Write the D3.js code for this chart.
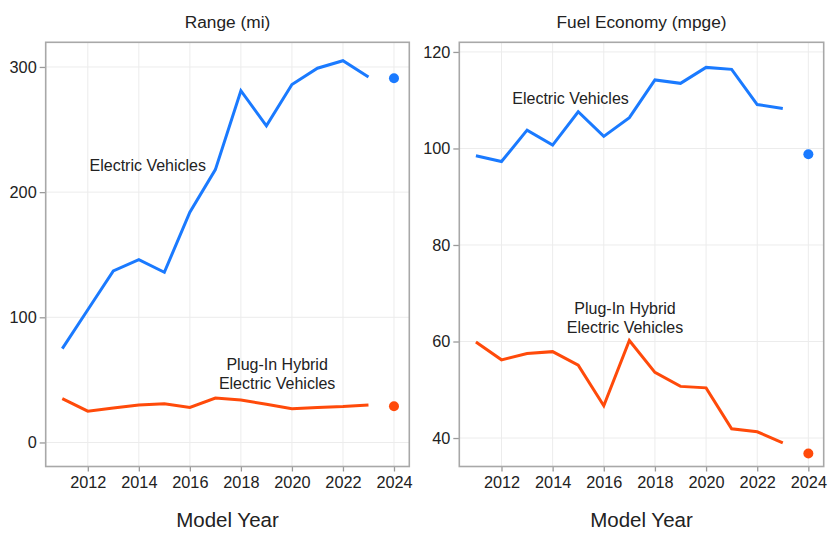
<!DOCTYPE html>
<html>
<head>
<meta charset="UTF-8">
<title>EV range and fuel economy</title>
<style>
  html, body { margin: 0; padding: 0; background: #fff; }
  svg { display: block; font-family: "Liberation Sans", Arial, sans-serif; }
</style>
</head>
<body>
<svg width="837" height="539"></svg>
<script src="https://d3js.org/d3.v7.min.js"></script>
<script>
// data
var years = [2011, 2012, 2013, 2014, 2015, 2016, 2017, 2018, 2019, 2020, 2021, 2022, 2023];
var yearTicks = [2012, 2014, 2016, 2018, 2020, 2022, 2024];
var latestYear = 2024;

var evRange   = [75, 106, 137, 146, 136, 184, 218, 281, 253, 286, 299, 305, 292];
var phevRange = [35, 25, 27.5, 30, 31, 28, 35.5, 34, 30.5, 27, 28, 28.7, 30];
var evRangeLatest = 291;
var phevRangeLatest = 29;
var rangeTicks = [0, 100, 200, 300];

var evMpge   = [98.5, 97.3, 103.8, 100.7, 107.6, 102.5, 106.4, 114.2, 113.5, 116.8, 116.4, 109.1, 108.3];
var phevMpge = [59.9, 56.2, 57.5, 57.9, 55.1, 46.7, 60.2, 53.6, 50.7, 50.4, 41.9, 41.3, 39.0];
var evMpgeLatest = 98.8;
var phevMpgeLatest = 36.8;
var mpgeTicks = [40, 60, 80, 100, 120];

var evColor = "#1a7aff";
var phevColor = "#ff4a0a";

var svg = d3.select("svg");

// one panel per measure
var panels = [
  {
    title: "Range (mi)", left: 45.7, right: 409.3,
    yDomain: [-19.2, 319.7], ticks: rangeTicks,
    ev: evRange, phev: phevRange, evLast: evRangeLatest, phevLast: phevRangeLatest,
    evLabel: [2014.35, 221], phevLabel: [2019.42, 62.8]
  },
  {
    title: "Fuel Economy (mpge)", left: 459.3, right: 823.7,
    yDomain: [34.1, 122], ticks: mpgeTicks,
    ev: evMpge, phev: phevMpge, evLast: evMpgeLatest, phevLast: phevMpgeLatest,
    evLabel: [2014.7, 110.4], phevLabel: [2016.83, 67.0]
  }
];

var plotTop = 42.3, plotBottom = 466.5;

panels.forEach(function (p) {
  var x = d3.scaleLinear().domain([2010.35, 2024.6]).range([p.left, p.right]);
  var y = d3.scaleLinear().domain(p.yDomain).range([plotBottom, plotTop]);
  var g = svg.append("g");

  // grid
  g.selectAll(".vgrid").data(yearTicks).enter().append("line")
    .attr("x1", function (d) { return x(d); }).attr("x2", function (d) { return x(d); })
    .attr("y1", plotTop).attr("y2", plotBottom)
    .attr("stroke", "#ececec").attr("stroke-width", 1);
  g.selectAll(".hgrid").data(p.ticks).enter().append("line")
    .attr("x1", p.left).attr("x2", p.right)
    .attr("y1", function (d) { return y(d); }).attr("y2", function (d) { return y(d); })
    .attr("stroke", "#ececec").attr("stroke-width", 1);

  // axes
  var yAxis = g.append("g")
    .attr("transform", "translate(" + p.left + ",0)")
    .call(d3.axisLeft(y).tickValues(p.ticks).tickSize(6).tickPadding(3).tickFormat(d3.format("d")));
  var xAxis = g.append("g")
    .attr("transform", "translate(0," + plotBottom + ")")
    .call(d3.axisBottom(x).tickValues(yearTicks).tickSize(5).tickPadding(5).tickFormat(d3.format("d")));
  [yAxis, xAxis].forEach(function (a) {
    a.select(".domain").remove();
    a.selectAll(".tick line").attr("stroke", "#9a9a9a").attr("stroke-width", 1.3);
    a.selectAll(".tick text").attr("fill", "#222").style("font-size", "16.3px")
      .style("font-family", "'Liberation Sans', Arial, sans-serif");
  });

  // frame
  g.append("rect")
    .attr("x", p.left).attr("y", plotTop)
    .attr("width", p.right - p.left).attr("height", plotBottom - plotTop)
    .attr("fill", "none").attr("stroke", "#a8a8a8").attr("stroke-width", 1.6);

  // lines
  var line = d3.line()
    .x(function (d, i) { return x(years[i]); })
    .y(function (d) { return y(d); });
  g.append("path").datum(p.ev).attr("d", line)
    .attr("fill", "none").attr("stroke", evColor).attr("stroke-width", 3).attr("stroke-linejoin", "miter");
  g.append("path").datum(p.phev).attr("d", line)
    .attr("fill", "none").attr("stroke", phevColor).attr("stroke-width", 3).attr("stroke-linejoin", "miter");

  // latest model year dots
  g.append("circle").attr("cx", x(latestYear)).attr("cy", y(p.evLast)).attr("r", 5).attr("fill", evColor);
  g.append("circle").attr("cx", x(latestYear)).attr("cy", y(p.phevLast)).attr("r", 5).attr("fill", phevColor);

  // series labels
  g.append("text")
    .attr("x", x(p.evLabel[0])).attr("y", y(p.evLabel[1]))
    .attr("text-anchor", "middle").attr("dominant-baseline", "central")
    .attr("fill", "#222").style("font-size", "16px")
    .text("Electric Vehicles");
  var pt = g.append("text")
    .attr("x", x(p.phevLabel[0])).attr("y", y(p.phevLabel[1]))
    .attr("text-anchor", "middle").attr("dominant-baseline", "central")
    .attr("fill", "#222").style("font-size", "16px");
  pt.append("tspan").attr("x", x(p.phevLabel[0])).text("Plug-In Hybrid");
  pt.append("tspan").attr("x", x(p.phevLabel[0])).attr("dy", 19).text("Electric Vehicles");

  // titles
  g.append("text")
    .attr("x", (p.left + p.right) / 2).attr("y", 27.5)
    .attr("text-anchor", "middle").attr("fill", "#222").style("font-size", "17.3px")
    .text(p.title);
  g.append("text")
    .attr("x", (p.left + p.right) / 2).attr("y", 527)
    .attr("text-anchor", "middle").attr("fill", "#222").style("font-size", "20.5px")
    .text("Model Year");
});
</script>
</body>
</html>
